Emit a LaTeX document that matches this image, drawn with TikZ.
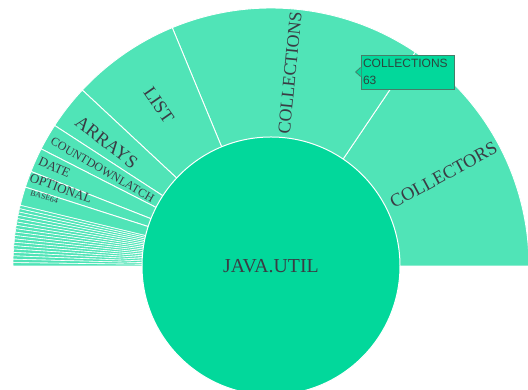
\documentclass[tikz,border=0pt]{standalone}
\usepackage{fontspec}
\setmainfont{Liberation Serif}
\newfontfamily\tipfont{Liberation Sans}
\definecolor{ringc}{RGB}{80,228,183}
\definecolor{corec}{RGB}{2,216,155}
\definecolor{labc}{RGB}{58,60,68}
\definecolor{tipline}{RGB}{70,125,105}
\definecolor{tiptext}{RGB}{45,70,62}
\tikzset{
  slice/.style={fill=ringc, draw=white, line width=0.9pt},
  lbl/.style={text=labc, inner sep=0pt, anchor=center},
  core/.style={circle, fill=corec, draw=white, line width=1pt, minimum size=258pt, inner sep=0pt, text=labc, font=\fontsize{19.8}{19.8}\selectfont},
  tipbox/.style={draw=tipline, fill=corec, line width=0.8pt, minimum width=93pt, minimum height=34pt, text width=89pt, inner sep=2pt, align=left, font=\tipfont\fontsize{12}{17}\selectfont, text=tiptext}
}
\begin{document}
\begin{tikzpicture}[x=1pt,y=1pt]
\useasboundingbox (0,0) rectangle (528,390);
\clip (0,0) rectangle (528,390);
\begin{scope}[shift={(271,124)}]
  % main slices
  \foreach \a/\b in {0/56,56/112.5,112.5/137,137/147,147/153,153/158.5,158.5/162.2,162.2/166.4}{
    \draw[slice] (0,0) -- (\a:258pt) arc[start angle=\a, end angle=\b, radius=258pt] -- cycle;
  }
  % thin slices
  \foreach \i in {0,...,17}{
    \pgfmathsetmacro\a{166.4+\i*13.6/18}
    \pgfmathsetmacro\b{166.4+(\i+1)*13.6/18}
    \draw[slice, line width=0.6pt] (0,0) -- (\a:258pt) arc[start angle=\a, end angle=\b, radius=258pt] -- cycle;
  }
  % centre
  \node[core] (root) at (0,0) {JAVA.UTIL};
  % labels
  \node[lbl, font=\fontsize{18.5}{18.5}\selectfont, rotate=28.5] (collectors) at (27.8:195pt) {COLLECTORS};
  \node[lbl, font=\fontsize{18}{18}\selectfont, rotate=84.4] (collections) at (84.4:194pt) {COLLECTIONS};
  \node[lbl, font=\fontsize{18.5}{18.5}\selectfont, rotate=-55.2] (list) at (124.9:196pt) {LIST};
  \node[lbl, font=\fontsize{18.5}{18.5}\selectfont, rotate=-38] (arrays) at (143:206pt) {ARRAYS};
  \node[lbl, font=\fontsize{12}{12}\selectfont, rotate=-30] (cdl) at (150.3:194pt) {COUNTDOWNLATCH};
  \node[lbl, font=\fontsize{13}{13}\selectfont, rotate=-24] (date) at (155.5:238pt) {DATE};
  \node[lbl, font=\fontsize{13}{13}\selectfont, rotate=-20] (optional) at (159.7:224pt) {OPTIONAL};
  \node[lbl, font=\fontsize{8}{8}\selectfont, rotate=-17] (base64) at (163.1:237pt) {BASE64};
\end{scope}
% tooltip
\node[tipbox] (tip) at (407.5,318) {COLLECTIONS\\63};
\fill[corec] ([xshift=0.8pt,yshift=4.5pt]tip.west) -- ([xshift=-5pt,yshift=0pt]tip.west) -- ([xshift=0.8pt,yshift=-4.5pt]tip.west) -- cycle;
\draw[tipline, line width=0.8pt, line join=miter] ([yshift=4.5pt]tip.west) -- ([xshift=-5pt]tip.west) -- ([yshift=-4.5pt]tip.west);
\end{tikzpicture}
\end{document}
